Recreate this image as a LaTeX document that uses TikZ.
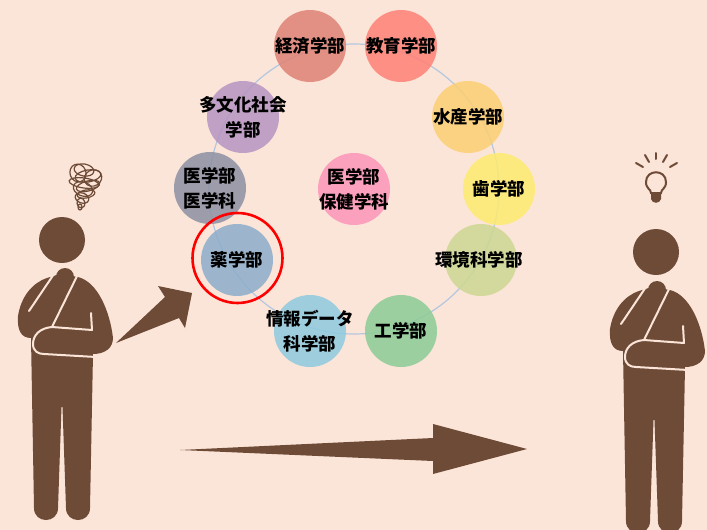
\documentclass[tikz,border=0pt]{standalone}
\usepackage{fontspec}
\newfontfamily\cjk{Noto Sans CJK JP}
\usepackage{xcolor}
\usetikzlibrary{positioning}

\definecolor{bgpeach}{HTML}{FBE5D8}
\definecolor{figbrown}{HTML}{6E4B37}
\definecolor{ringblue}{HTML}{B4C7E0}

\tikzset{
  thinker/.pic={
    \fill[figbrown] (60,274) -- (78,277) .. controls (98,282) and (110,312) .. (113,338)
      .. controls (113,348) and (105,354) .. (93,354)
      -- (90,508) .. controls (90,524) and (66,524) .. (66,508)
      -- (62.5,407) -- (61.5,407) -- (58,508)
      .. controls (58,524) and (34,524) .. (34,508)
      -- (31,338) .. controls (21,338) and (17,330) .. (18,316)
      .. controls (21,297) and (32,283) .. (47,278) -- cycle;
    \draw[gapline] (58,268) -- (29,311); % upper arm
    \draw[gapline] (80,270) -- (52,327) -- (92,330) -- (91,313);
    \draw[gapline] (52,327) .. controls (40,328) and (33,335) .. (33,344)
      .. controls (33,351) and (38,354) .. (44,354) -- (96,357);
    \fill[figbrown] (65,277) circle (9); % hand
  },
  gapline/.style={bgpeach, line width=2pt, line cap=round, line join=round}
}

\begin{document}
\begin{tikzpicture}[
    x = 1pt, y = -1pt,
    dept/.style={circle, minimum size=72pt, inner sep=0pt, fill opacity=0.85},
    deptlabel/.style={align=center, inner sep=0pt, font=\cjk\bfseries\fontsize{17.5}{25}\selectfont},
    > = stealth
  ]
  \fill[bgpeach] (0,0) rectangle (707,530);
  \useasboundingbox (0,0) rectangle (707,530);

  \draw[ringblue, line width=1.2pt] (354,189) circle (145);

  \node[dept, fill={rgb,255:red,223;green,130;blue,118}, label={[deptlabel]center:経済学部}] (v1) at (310,46) {};
  \node[dept, fill={rgb,255:red,255;green,128;blue,118}, label={[deptlabel]center:教育学部}] (v2) at (401,46) {};
  \node[dept, fill={rgb,255:red,251;green,207;blue,116}, label={[deptlabel]center:水産学部}] (v3) at (468,117) {};
  \node[dept, fill={rgb,255:red,253;green,235;blue,112}, label={[deptlabel]center:歯学部}] (v4) at (499,189) {};
  \node[dept, fill={rgb,255:red,204;green,216;blue,146}, label={[deptlabel, xshift=-2pt]center:環境科学部}] (v5) at (481,260) {};
  \node[dept, fill={rgb,255:red,140;green,204;blue,150}, label={[deptlabel]center:工学部}] (v6) at (401,331) {};
  \node[dept, fill={rgb,255:red,142;green,203;blue,224}, label={[deptlabel]center:情報データ\\科学部}] (v7) at (310,331) {};
  \node[dept, fill={rgb,255:red,140;green,173;blue,202}, label={[deptlabel]center:薬学部}] (v8) at (237,260) {};
  \node[dept, fill={rgb,255:red,141;green,144;blue,164}, label={[deptlabel]center:医学部\\医学科}] (v9) at (210,188) {};
  \node[dept, fill={rgb,255:red,182;green,148;blue,193}, label={[deptlabel]center:多文化社会\\学部}] (v10) at (243,117) {};
  \node[dept, fill={rgb,255:red,253;green,150;blue,185}, label={[deptlabel]center:医学部\\保健学科}] (v11) at (354,189) {};

  \draw[red, line width=2.6pt] (237.5,258) circle (45);

  \fill[figbrown] (62,240) circle (23); % heads
  \fill[figbrown] (656,252) circle (23);
  \pic at (0,0) {thinker};
  \pic at (592,13) {thinker};

  % scribble over the left head
  \foreach \cx/\cy/\rx/\ry/\ang in {
      78/173/8/9/20, 84/170/10/6/-10, 93/178/9/8/30, 88/176/13/6/10,
      84/183/15/5/-8, 88/186/12/5/15, 83/189/10/7/-20, 86/194/9/4/10,
      82/198/7/5/-20, 81/203/4/5/10, 80/207/2/3/0}
    \draw[figbrown, line width=1.2pt] (\cx,\cy) circle [x radius=\rx, y radius=\ry, rotate=\ang];

  % light bulb over the right head
  \draw[figbrown, line width=2pt] (651,193) .. controls (651,189) and (646,189) .. (646,182)
    .. controls (646,169) and (666,169) .. (666,182)
    .. controls (666,189) and (661,189) .. (661,193) -- cycle;
  \fill[figbrown] (651,193) -- (661,193) -- (661,199) .. controls (660,204) and (652,204) .. (651,199) -- cycle;
  \foreach \xa/\ya/\xb/\yb in {656/153/656/159, 645/155/649/162, 667/155/663/162,
      636/163/643/167, 677/163/670/167}
    \draw[figbrown, line width=2pt, line cap=round] (\xa,\ya) -- (\xb,\yb);

  % block arrows
  \fill[figbrown] (116,343) -- (165,297) -- (158,286) -- (192,293) -- (185,328) -- (179,318) -- cycle;
  \fill[figbrown] (180,450) -- (433,438) -- (433,424) -- (527,449) -- (433,474) -- (433,461) -- cycle;
\end{tikzpicture}
\end{document}
